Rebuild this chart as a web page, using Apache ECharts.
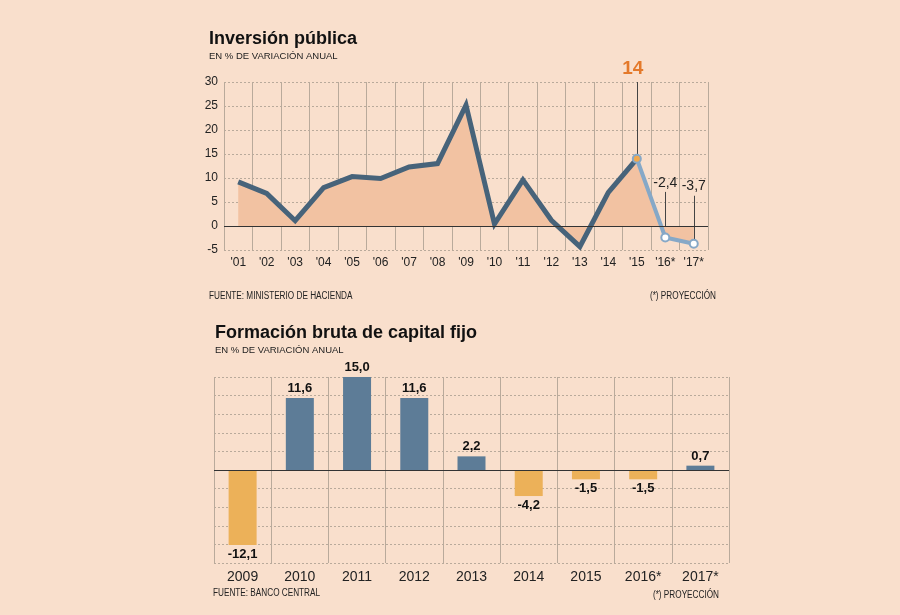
<!DOCTYPE html>
<html>
<head>
<meta charset="utf-8">
<script src="https://cdn.jsdelivr.net/npm/echarts@6/dist/echarts.min.js"></script>
<style>
  html, body { margin: 0; padding: 0; background: #f9dfcc; }
  #chart { width: 900px; height: 615px; }
</style>
</head>
<body>
<div id="chart"></div>
<script>
    'use strict';

    // Inversión pública (% variación anual)
    var inversionYears = ["'01", "'02", "'03", "'04", "'05", "'06", "'07", "'08", "'09",
        "'10", "'11", "'12", "'13", "'14", "'15", "'16*", "'17*"];
    var inversionValues = [9.2, 6.8, 1.1, 8.0, 10.3, 9.9, 12.3, 13.0, 25.2,
        0.4, 9.6, 1.2, -4.3, 7.0, 14.0, -2.4, -3.7];
    var lastReal = 14; // index of '15, las siguientes son proyección

    // Formación bruta de capital fijo (% variación anual)
    var fbkfYears = ['2009', '2010', '2011', '2012', '2013', '2014', '2015', '2016*', '2017*'];
    var fbkfValues = [-12.1, 11.6, 15.0, 11.6, 2.2, -4.2, -1.5, -1.5, 0.7];

    var topTicks = { min: -5, max: 30, interval: 5 };
    var bottomTicks = { min: -15, max: 15, interval: 3 };

    function comma(v) {
        return v.toFixed(1).replace('.', ',');
    }

    var realLine = inversionValues.map(function (v, i) { return i <= lastReal ? v : null; });
    var projLine = inversionValues.map(function (v, i) {
        if (i < lastReal) return null;
        if (i === lastReal) return { value: v, itemStyle: { color: '#f0a84e' } };
        return v;
    });

    var bars = fbkfValues.map(function (v) {
        return {
            value: v,
            itemStyle: { color: v >= 0 ? '#5d7c97' : '#ecb159' },
            label: { position: v >= 0 ? 'top' : 'bottom' }
        };
    });

    var font = 'Liberation Sans, Arial, sans-serif';
    var gridLine = '#b9aa9b';

    // textos pequeños, estrechados como en el original
    function note(x, y, text, align) {
        return {
            type: 'text', x: x, y: y, scaleX: 0.82,
            style: { text: text, font: '10px ' + font, fill: '#222', textAlign: align || 'left', textVerticalAlign: 'middle' }
        };
    }

    var myChart = echarts.init(document.getElementById('chart'));

    var option = {
        backgroundColor: '#f9dfcc',
        textStyle: { fontFamily: font },
        animation: false,
        graphic: [
            { type: 'text', left: 209, top: 30, style: { text: 'Inversión pública', font: 'bold 18px ' + font, fill: '#111' } },
            { type: 'text', left: 209, top: 51, style: { text: 'EN % DE VARIACIÓN ANUAL', font: '9.5px ' + font, fill: '#222' } },
            note(209, 296, 'FUENTE: MINISTERIO DE HACIENDA'),
            note(716, 296, '(*) PROYECCIÓN', 'right'),
            { type: 'text', left: 215, top: 324, style: { text: 'Formación bruta de capital fijo', font: 'bold 18px ' + font, fill: '#111' } },
            { type: 'text', left: 215, top: 345, style: { text: 'EN % DE VARIACIÓN ANUAL', font: '9.5px ' + font, fill: '#222' } },
            note(213, 593, 'FUENTE: BANCO CENTRAL'),
            note(719, 595, '(*) PROYECCIÓN', 'right')
        ],
        grid: [
            { left: 224, right: 192, top: 82, bottom: 365 },
            { left: 214, right: 171, top: 377, bottom: 52 }
        ],
        xAxis: [
            {
                type: 'category', gridIndex: 0, data: inversionYears, boundaryGap: true,
                axisLine: { show: false, onZero: false },
                axisTick: { show: false },
                axisLabel: { interval: 0, fontSize: 12, color: '#222', margin: 7 },
                splitLine: { show: true, interval: 0, lineStyle: { color: gridLine, width: 1 } }
            },
            {
                type: 'category', gridIndex: 1, data: fbkfYears, boundaryGap: true,
                axisLine: { show: false, onZero: false },
                axisTick: { show: false },
                axisLabel: { interval: 0, fontSize: 14, color: '#222', margin: 7 },
                splitLine: { show: true, interval: 0, lineStyle: { color: gridLine, width: 1 } }
            }
        ],
        yAxis: [
            {
                type: 'value', gridIndex: 0, min: topTicks.min, max: topTicks.max, interval: topTicks.interval,
                axisLine: { show: false }, axisTick: { show: false },
                axisLabel: { fontSize: 12, color: '#222', margin: 6 },
                splitLine: { lineStyle: { color: gridLine, type: [2, 2] } }
            },
            {
                type: 'value', gridIndex: 1, min: bottomTicks.min, max: bottomTicks.max, interval: bottomTicks.interval,
                axisLine: { show: false }, axisTick: { show: false },
                axisLabel: { show: false },
                splitLine: { lineStyle: { color: gridLine, type: [2, 2] } }
            }
        ],
        series: [
            {
                name: 'area', type: 'line', xAxisIndex: 0, yAxisIndex: 0,
                data: inversionValues, symbol: 'none', silent: true,
                lineStyle: { width: 0 },
                areaStyle: { color: '#f2c2a2', opacity: 1 },
                markLine: {
                    silent: true, symbol: ['none', 'none'],
                    label: { show: false },
                    lineStyle: { color: '#333', width: 1.2, type: 'solid' },
                    data: [{ yAxis: 0 }]
                }
            },
            {
                name: 'real', type: 'line', xAxisIndex: 0, yAxisIndex: 0,
                data: realLine, symbol: 'none',
                lineStyle: { color: '#47637a', width: 5, join: 'miter' }
            },
            {
                name: 'proyeccion', type: 'line', xAxisIndex: 0, yAxisIndex: 0,
                data: projLine, clip: false, z: 3,
                symbol: 'circle', symbolSize: 8,
                lineStyle: { color: '#86a8c7', width: 4 },
                itemStyle: { color: '#ffffff', borderColor: '#86a8c7', borderWidth: 2 },
                markLine: {
                    silent: true, z: 1, symbol: ['none', 'none'],
                    lineStyle: { color: '#444', width: 1, type: 'solid' },
                    label: { position: 'end', fontSize: 14, color: '#222' },
                    data: [
                        [{ coord: [inversionYears[14], inversionValues[14]] },
                         { coord: [inversionYears[14], topTicks.max], label: { formatter: String(Math.round(inversionValues[14])), fontSize: 19, fontWeight: 'bold', color: '#e4792a', distance: 4, offset: [-4, 0] } }],
                        [{ coord: [inversionYears[15], inversionValues[15]] },
                         { coord: [inversionYears[15], 7.1], label: { formatter: comma(inversionValues[15]), distance: 2 } }],
                        [{ coord: [inversionYears[16], inversionValues[16]] },
                         { coord: [inversionYears[16], 6.3], label: { formatter: comma(inversionValues[16]), distance: 3 } }]
                    ]
                }
            },
            {
                name: 'fbkf', type: 'bar', xAxisIndex: 1, yAxisIndex: 1,
                data: bars, barWidth: 28,
                label: {
                    show: true, fontSize: 13, fontWeight: 'bold', color: '#111', distance: 3,
                    formatter: function (p) { return comma(p.value); }
                },
                markLine: {
                    silent: true, symbol: ['none', 'none'],
                    label: { show: false },
                    lineStyle: { color: '#333', width: 1.2, type: 'solid' },
                    data: [{ yAxis: 0 }]
                }
            }
        ]
    };

    myChart.setOption(option);
</script>
</body>
</html>
